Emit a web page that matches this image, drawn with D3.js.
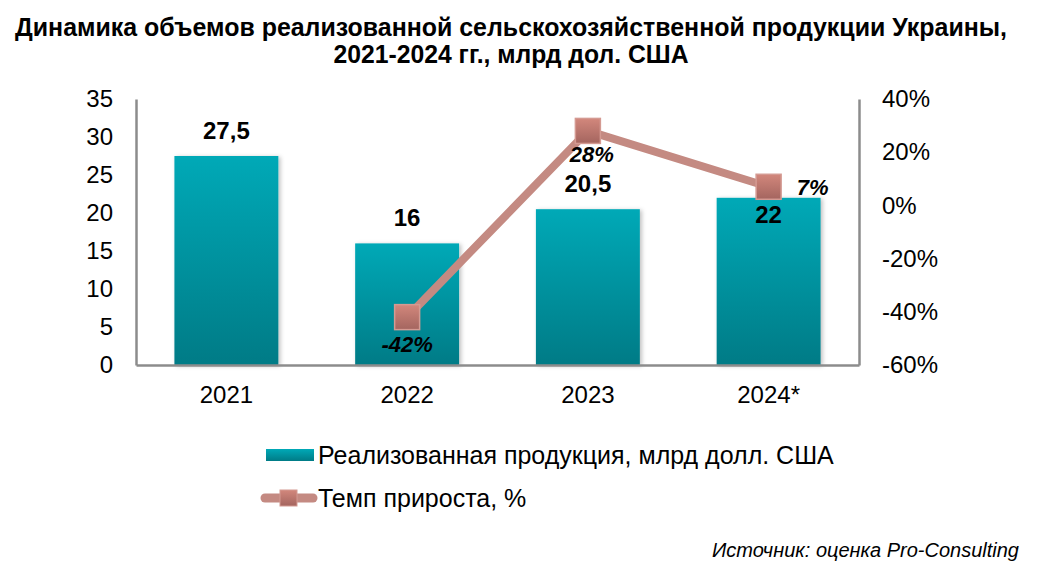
<!DOCTYPE html>
<html><head><meta charset="utf-8">
<script src="https://cdn.jsdelivr.net/npm/d3@7/dist/d3.min.js"></script>
<style>body{margin:0;background:#fff}svg{display:block}</style>
</head><body>
<svg id="c" width="1044" height="568"></svg>
<script>
const titleLines = ["Динамика объемов реализованной сельскохозяйственной продукции Украины,", "2021-2024 гг., млрд дол. США"];
const categories = ["2021", "2022", "2023", "2024*"];
const salesValues = [27.5, 16, 20.5, 22];
const salesLabels = ["27,5", "16", "20,5", "22"];
const growthValues = [null, -42, 28, 7];
const growthLabels = [null, "-42%", "28%", "7%"];
const leftTicks = [0, 5, 10, 15, 20, 25, 30, 35];
const rightTicks = [-60, -40, -20, 0, 20, 40];
const legendLabels = ["Реализованная продукция, млрд долл. США", "Темп прироста, %"];
const sourceText = "Источник: оценка Pro-Consulting";

const svg = d3.select("#c");
const FONT = "'Liberation Sans', Arial, sans-serif";
const L = 136, R = 859, T = 99, B = 365;

const defs = svg.append("defs");
const bg = defs.append("linearGradient").attr("id","barG").attr("x1",0).attr("y1",0).attr("x2",0).attr("y2",1);
bg.append("stop").attr("offset","0%").attr("stop-color","#00a9b7");
bg.append("stop").attr("offset","100%").attr("stop-color","#007b86");
const mg = defs.append("linearGradient").attr("id","mkG").attr("x1",0).attr("y1",0).attr("x2",0).attr("y2",1);
mg.append("stop").attr("offset","0%").attr("stop-color","#d2877c");
mg.append("stop").attr("offset","100%").attr("stop-color","#a4655f");
const sh = defs.append("filter").attr("id","sh").attr("x","-20%").attr("y","-20%").attr("width","140%").attr("height","140%");
sh.append("feDropShadow").attr("dx",2).attr("dy",1).attr("stdDeviation",2).attr("flood-color","#000").attr("flood-opacity",0.25);

// title
const tt = svg.append("g").attr("font-family",FONT)
  .attr("font-weight","bold").attr("font-size",25).attr("text-anchor","middle").attr("fill","#000");
const tw = [992, 355];
const ty = [36, 63];
titleLines.forEach((t,i)=>{
  tt.append("text").attr("x",511).attr("y",ty[i]).text(t)
    .attr("textLength",tw[i]).attr("lengthAdjust","spacingAndGlyphs");
});

const x = d3.scaleBand().domain(categories).range([L,R]).paddingInner(0.425).paddingOuter(0.2125);
const y = d3.scaleLinear().domain([0,35]).range([B,T]);
const y2 = d3.scaleLinear().domain([-60,40]).range([B,T]);

// bars
svg.append("g").selectAll("rect").data(salesValues).join("rect")
  .attr("x",(d,i)=>x(categories[i])).attr("width",x.bandwidth())
  .attr("y",d=>y(d)).attr("height",d=>B-y(d))
  .attr("fill","url(#barG)").attr("filter","url(#sh)");

// axes
const axL = svg.append("g").attr("transform",`translate(${L},0)`)
  .call(d3.axisLeft(y).tickValues(leftTicks).tickSize(0).tickPadding(23).tickFormat(d3.format("d")));
const axR = svg.append("g").attr("transform",`translate(${R},0)`)
  .call(d3.axisRight(y2).tickValues(rightTicks).tickSize(0).tickPadding(23).tickFormat(d=>d+"%"));
const axB = svg.append("g").attr("transform",`translate(0,${B})`)
  .call(d3.axisBottom(x).tickSize(0));
[axL,axR,axB].forEach(a=>{
  a.select(".domain").attr("stroke","#8c8c8c").attr("stroke-width",2.5);
  a.selectAll("text").attr("font-family",FONT).attr("font-size",24).attr("fill","#000");
});
axB.selectAll("text").attr("dy",null).attr("y",403-B);

// bar labels
const barLabelDy = [-17, -17, -17, 25];
svg.append("g").selectAll("text").data(salesValues).join("text")
  .attr("x",(d,i)=>x(categories[i])+x.bandwidth()/2)
  .attr("y",(d,i)=>y(d)+barLabelDy[i])
  .attr("text-anchor","middle").attr("font-family",FONT).attr("font-weight","bold").attr("font-size",24)
  .text((d,i)=>salesLabels[i]);

// line
const pts = growthValues.map((v,i)=>({v,i})).filter(p=>p.v!==null);
const cx = i => x(categories[i])+x.bandwidth()/2;
svg.append("path").datum(pts)
  .attr("d", d3.line().x(p=>cx(p.i)).y(p=>y2(p.v)))
  .attr("fill","none").attr("stroke","#c48a82").attr("stroke-width",8).attr("stroke-linejoin","round");
const ms = 25;
svg.append("g").selectAll("rect").data(pts).join("rect")
  .attr("x",p=>cx(p.i)-ms/2).attr("y",p=>y2(p.v)-ms/2).attr("width",ms).attr("height",ms)
  .attr("fill","url(#mkG)").attr("stroke","#d49a92").attr("stroke-width",1.5);

// growth labels
const gOff = {1:[0,35],2:[4,31],3:[44,8]};
svg.append("g").selectAll("text").data(pts).join("text")
  .attr("x",p=>cx(p.i)+gOff[p.i][0]).attr("y",p=>y2(p.v)+gOff[p.i][1])
  .attr("text-anchor","middle").attr("font-family",FONT).attr("font-weight","bold").attr("font-style","italic").attr("font-size",22)
  .text(p=>growthLabels[p.i]);

// legend
const lg = svg.append("g").attr("font-family",FONT).attr("font-size",25).attr("fill","#000");
lg.append("rect").attr("x",266).attr("y",449).attr("width",48).attr("height",12).attr("fill","url(#barG)");
lg.append("text").attr("x",318).attr("y",464).text(legendLabels[0]);
lg.append("line").attr("x1",265).attr("x2",313).attr("y1",498).attr("y2",498).attr("stroke","#c48a82").attr("stroke-width",9).attr("stroke-linecap","round");
lg.append("rect").attr("x",280).attr("y",490).attr("width",17).attr("height",16).attr("fill","url(#mkG)").attr("stroke","#d49a92");
lg.append("text").attr("x",318).attr("y",507).text(legendLabels[1]);

svg.append("text").attr("x",1019).attr("y",557).attr("text-anchor","end")
  .attr("font-family",FONT).attr("font-style","italic").attr("font-size",20).text(sourceText);
</script>
</body></html>
